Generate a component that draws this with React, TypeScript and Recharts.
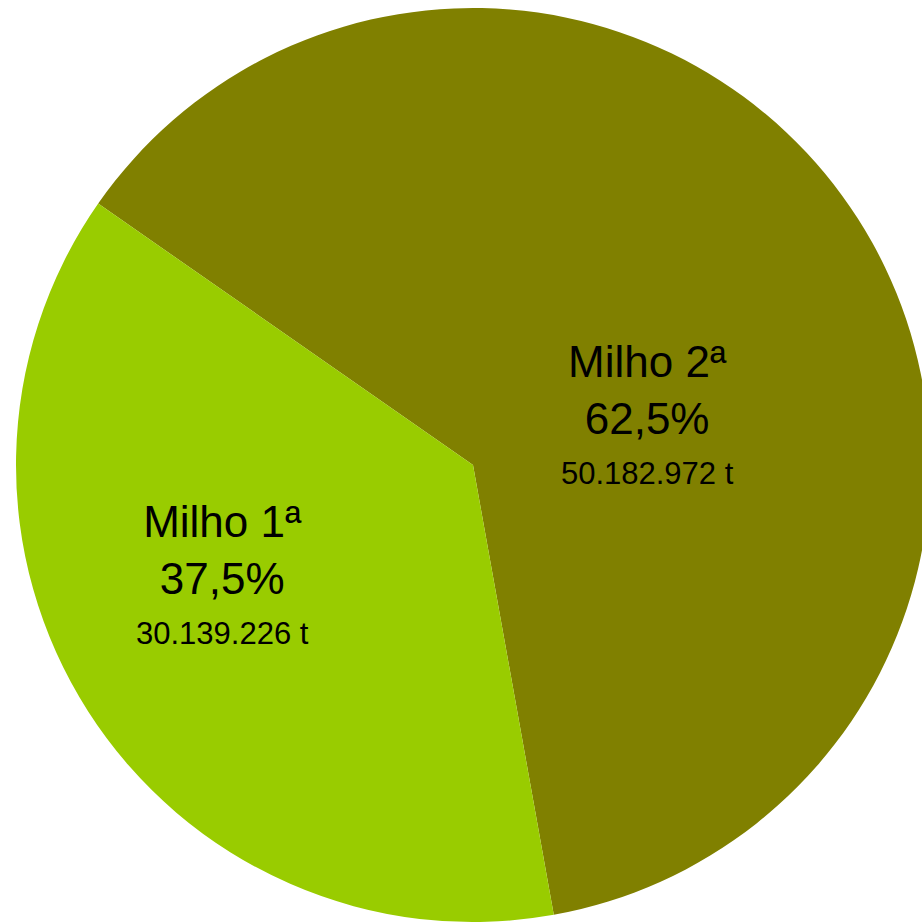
import { Cell, Pie, PieChart } from "recharts";

const CATEGORIES = ["Milho 2ª", "Milho 1ª"];
const TONNES = [50182972, 30139226];
const COLORS = ["#808000", "#99CC00"];

// Excel-like label placement: polar position of the middle line's baseline
// (angle in degrees, radius as fraction of outerRadius)
const LABEL_POLAR = [
  { angle: 10.1, r: 0.387 },
  { angle: 207.2, r: 0.617 },
];

const RAD = Math.PI / 180;
const FONT = "'Liberation Sans', Arial, sans-serif";

const data = CATEGORIES.map((name, i) => ({ name, value: TONNES[i] }));
const total = TONNES.reduce((a, b) => a + b, 0);

const fmtTonnes = (v: number) =>
  String(v).replace(/\B(?=(\d{3})+(?!\d))/g, ".") + " t";
const fmtPct = (v: number) => ((v / total) * 100).toFixed(1).replace(".", ",") + "%";

function renderLabel(props: any) {
  const { cx, cy, outerRadius, index, name, value } = props;
  const pos = LABEL_POLAR[index];
  const x = cx + outerRadius * pos.r * Math.cos(pos.angle * RAD);
  const y = cy - outerRadius * pos.r * Math.sin(pos.angle * RAD);
  return (
    <text fill="#000" textAnchor="middle" fontFamily={FONT}>
      <tspan x={x} y={y - 57} fontSize={44}>
        {name}
      </tspan>
      <tspan x={x} y={y} fontSize={44}>
        {fmtPct(value)}
      </tspan>
      <tspan x={x} y={y + 50} fontSize={31}>
        {fmtTonnes(value)}
      </tspan>
    </text>
  );
}

export default function App() {
  return (
    <div style={{ position: "absolute", left: 0, top: 0, width: 922, height: 922, background: "#fff" }}>
      <PieChart width={922} height={922} margin={{ top: 0, right: 0, bottom: 0, left: 0 }}>
        <Pie
          data={data}
          dataKey="value"
          nameKey="name"
          cx={473}
          cy={465}
          outerRadius={457}
          startAngle={145.1}
          endAngle={-214.9}
          stroke="none"
          label={renderLabel}
          labelLine={false}
          isAnimationActive={false}
        >
          {data.map((d, i) => (
            <Cell key={d.name} fill={COLORS[i]} />
          ))}
        </Pie>
      </PieChart>
    </div>
  );
}
